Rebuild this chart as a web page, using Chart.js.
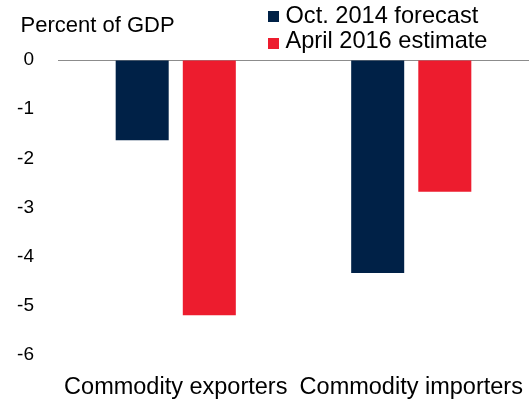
<!DOCTYPE html>
<html>
<head>
<meta charset="utf-8">
<script src="https://cdn.jsdelivr.net/npm/chart.js@4"></script>
<style>
  html, body { margin: 0; padding: 0; background: #fff; }
  #wrap { position: relative; width: 529px; height: 400px; font-family: "Liberation Sans", Arial, sans-serif; color: #000; }
  #unit { position: absolute; left: 20.5px; top: 13.7px; font-size: 22px; line-height: 1; white-space: nowrap; }
  .leg { position: absolute; left: 285.5px; font-size: 23.6px; line-height: 1; white-space: nowrap; }
  .sq { position: absolute; left: 268px; width: 11px; height: 11px; }
</style>
</head>
<body>
<div id="wrap">
  <canvas id="chart" width="529" height="400"></canvas>
  <div id="unit">Percent of GDP</div>
  <div class="sq" style="top:11px;background:#002147"></div>
  <div class="leg" style="top:4px">Oct. 2014 forecast</div>
  <div class="sq" style="top:38.3px;background:#ed1c2e"></div>
  <div class="leg" style="top:29.3px">April 2016 estimate</div>
</div>
<script>
document.addEventListener("DOMContentLoaded", () => {

    // datos
    const categories = ["Commodity exporters", "Commodity importers"];
    const forecast2014 = [-1.63, -4.33];
    const estimate2016 = [-5.19, -2.68];
    const yTicks = [0, -1, -2, -3, -4, -5, -6];

    const COL = {
        navy: "#002147",
        red: "#ed1c2e",
        zero: "#8c8c8c"
    };

    const family = "'Liberation Sans', Arial, sans-serif";

    new Chart(document.getElementById("chart").getContext("2d"), {
        type: "bar",
        data: {
            labels: categories,
            datasets: [
                { label: "Oct. 2014 forecast", data: forecast2014, backgroundColor: COL.navy, borderWidth: 0 },
                { label: "April 2016 estimate", data: estimate2016, backgroundColor: COL.red, borderWidth: 0 }
            ]
        },
        options: {
            responsive: false,
            animation: false,
            layout: { padding: { top: 60, right: -4, left: 0, bottom: 0 } },
            categoryPercentage: 0.57,
            barPercentage: 0.79,
            plugins: { legend: { display: false }, tooltip: { enabled: false } },
            scales: {
                x: {
                    grid: { display: false },
                    border: { display: false },
                    ticks: { color: "#000", font: { family, size: 23.5 }, padding: 10, autoSkip: false, maxRotation: 0 },
                    afterFit: s => {
                        s.height = 45;
                        // la etiqueta derecha se corta en el original
                        s.paddingLeft = 0;
                        s.paddingRight = 0;
                    }
                },
                y: {
                    min: -6,
                    max: 0,
                    afterBuildTicks: s => { s.ticks = yTicks.map(v => ({ value: v })); },
                    grid: {
                        drawTicks: false,
                        color: ctx => ctx.tick && ctx.tick.value === 0 ? COL.zero : "rgba(0,0,0,0)",
                        lineWidth: 1
                    },
                    border: { display: false },
                    ticks: { color: "#000", font: { family, size: 19 }, padding: 24 },
                    afterFit: s => { s.width = 58; }
                }
            }
        }
    });
});
</script>
</body>
</html>
